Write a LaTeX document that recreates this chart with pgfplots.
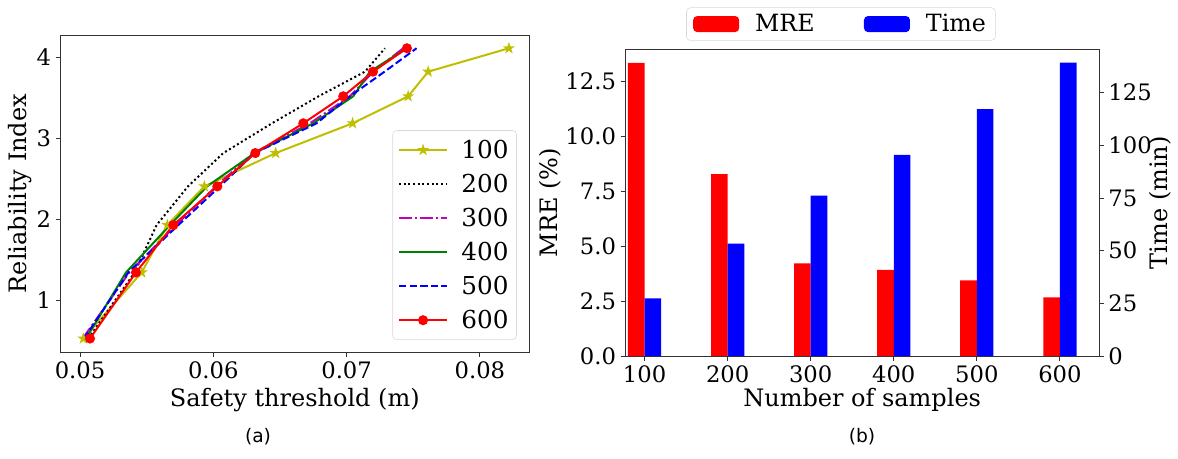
\documentclass[border=0pt]{standalone}
\usepackage{fontspec}
\setmainfont{DejaVu Serif}
\newfontfamily\capfont{DejaVu Sans}
\usepackage{pgfplots}
\pgfplotsset{compat=1.18}

\definecolor{myy}{rgb}{0.75,0.75,0}
\definecolor{mym}{rgb}{0.75,0,0.75}
\definecolor{myg}{rgb}{0,0.5,0}

% filled five-pointed star, like matplotlib's '*'
\pgfdeclareplotmark{fstar}{%
  \pgfpathmoveto{\pgfpointpolar{90}{\pgfplotmarksize}}%
  \pgfpathlineto{\pgfpointpolar{126}{0.382\pgfplotmarksize}}%
  \pgfpathlineto{\pgfpointpolar{162}{\pgfplotmarksize}}%
  \pgfpathlineto{\pgfpointpolar{198}{0.382\pgfplotmarksize}}%
  \pgfpathlineto{\pgfpointpolar{234}{\pgfplotmarksize}}%
  \pgfpathlineto{\pgfpointpolar{270}{0.382\pgfplotmarksize}}%
  \pgfpathlineto{\pgfpointpolar{306}{\pgfplotmarksize}}%
  \pgfpathlineto{\pgfpointpolar{342}{0.382\pgfplotmarksize}}%
  \pgfpathlineto{\pgfpointpolar{18}{\pgfplotmarksize}}%
  \pgfpathlineto{\pgfpointpolar{54}{0.382\pgfplotmarksize}}%
  \pgfpathclose\pgfusepathqfillstroke}

\pgfplotsset{
  /pgf/number format/assume math mode=true,
  common/.style={
    scale only axis, anchor=south west,
    tick align=outside,
    major tick length=3.6pt,
    tick style={black!80, line width=0.6pt},
    axis line style={black!80, line width=0.6pt},
    ticklabel style={font=\fontsize{17}{20}\selectfont},
    label style={font=\fontsize{18}{21}\selectfont},
  },
}

\begin{document}
\begin{tikzpicture}
\useasboundingbox (0,0) rectangle (883.5pt,343.5pt);

% ---------- (a) reliability index vs threshold ----------
\begin{axis}[common,
  at={(45.5pt,79.5pt)}, width=351.2pt, height=237.75pt,
  xmin=0.04855, xmax=0.08368, ymin=0.358, ymax=4.275,
  xtick={0.05,0.06,0.07,0.08}, ytick={1,2,3,4},
  scaled x ticks=false,
  xticklabel style={/pgf/number format/.cd,fixed,fixed zerofill,precision=2},
  xtick pos=left, ytick pos=left,
  xlabel={Safety threshold (m)}, ylabel={Reliability Index},
  ylabel style={at={(axis description cs:-0.086,0.5)}, anchor=center},
  legend style={at={(0.974,0.038)}, anchor=south east,
    draw=black!15, rounded corners=3pt, fill=white,
    font=\fontsize{18.5}{22}\selectfont, inner xsep=4pt, inner ysep=5pt,
    row sep=6.3pt,
    /tikz/every odd column/.append style={column sep=8pt}},
  legend cell align=left,
  legend image code/.code={\draw[mark repeat=2,mark phase=2,#1]
    plot coordinates {(0pt,0pt) (18pt,0pt) (36pt,0pt)};},
  every axis plot/.append style={line width=1.5pt},
]
\addplot[myy, mark=fstar, mark size=2.4pt] coordinates {
  (0.05025,0.5244) (0.05463,1.3408) (0.05655,1.9268) (0.05933,2.4042)
  (0.06468,2.8161) (0.07045,3.1837) (0.07462,3.5178) (0.07612,3.8219)
  (0.08218,4.1113)};
\addlegendentry{100}
\addplot[black, dash pattern=on 1.5pt off 2pt] coordinates {
  (0.05063,0.5244) (0.0541,1.3408) (0.05575,1.9268) (0.0581,2.4042)
  (0.06075,2.8161) (0.0644,3.1837) (0.0679,3.5178) (0.07138,3.8219)
  (0.07288,4.1113)};
\addlegendentry{200}
\addplot[mym, dash pattern=on 9.6pt off 2.4pt on 1.5pt off 2.4pt] coordinates {
  (0.0502,0.5244) (0.0537,1.3408) (0.0572,1.9268) (0.0602,2.4042)
  (0.0630,2.8161) (0.06725,3.1837) (0.07025,3.5178) (0.0720,3.8219)
  (0.07425,4.1113)};
\addlegendentry{300}
\addplot[myg] coordinates {
  (0.05045,0.5244) (0.05345,1.3408) (0.05675,1.9268) (0.05953,2.4042)
  (0.0631,2.8161) (0.0675,3.1837) (0.0705,3.5178) (0.07175,3.8219)
  (0.0745,4.1113)};
\addlegendentry{400}
\addplot[blue, dash pattern=on 5.5pt off 2.4pt] coordinates {
  (0.0503,0.5244) (0.05363,1.3408) (0.05738,1.9268) (0.0605,2.4042)
  (0.0631,2.8161) (0.06775,3.1837) (0.07025,3.5178) (0.07285,3.8219)
  (0.07525,4.1113)};
\addlegendentry{500}
\addplot[red, mark=*, mark size=3pt] coordinates {
  (0.05075,0.5244) (0.0542,1.3408) (0.0570,1.9268) (0.0603,2.4042)
  (0.06315,2.8161) (0.06675,3.1837) (0.06975,3.5178) (0.07198,3.8219)
  (0.07453,4.1113)};
\addlegendentry{600}
\end{axis}

% ---------- (b) MRE and time vs number of samples ----------
\begin{axis}[common,
  at={(469.1pt,76.5pt)}, width=355.1pt, height=230pt,
  xmin=77, xmax=647, ymin=0, ymax=13.94,
  xtick={100,200,300,400,500,600},
  ytick={0,2.5,5,7.5,10,12.5},
  yticklabel style={/pgf/number format/.cd,fixed,fixed zerofill,precision=1},
  xtick pos=left, ytick pos=left,
  xlabel={Number of samples}, ylabel={MRE (\%)},
  xlabel style={at={(axis description cs:0.5,-0.142)}, anchor=center},
  ylabel style={at={(axis description cs:-0.1595,0.5)}, anchor=center},
]
\addplot[ybar, bar width=20, bar shift=-10, fill=red, draw=none] coordinates {
  (100,13.33) (200,8.27) (300,4.21) (400,3.91) (500,3.44) (600,2.67)};
\end{axis}

\begin{axis}[common,
  at={(469.1pt,76.5pt)}, width=355.1pt, height=230pt,
  xmin=77, xmax=647, ymin=0, ymax=145.5,
  axis x line=none, axis y line*=right,
  ytick={0,25,50,75,100,125},
  ylabel={Time (min)},
  ylabel style={at={(axis description cs:1.129,0.5)}, anchor=center, rotate=0},
  legend style={at={(0.455,1.028)}, anchor=south,
    draw=black!15, rounded corners=3pt, fill=white,
    font=\fontsize{17.8}{21}\selectfont, inner xsep=5pt, inner ysep=3pt,
    /tikz/every odd column/.append style={column sep=10pt},
    /tikz/every even column/.append style={column sep=35pt}},
  legend columns=2,
  legend image code/.code={\fill[#1] (0pt,-6pt) rectangle (34.5pt,6pt);},
]
\addlegendimage{fill=red, draw=none}
\addlegendentry{MRE}
\addplot[ybar, bar width=20, bar shift=10, fill=blue, draw=none] coordinates {
  (100,27.4) (200,53.3) (300,76.1) (400,95.4) (500,117.1) (600,139.2)};
\addlegendentry{Time}
\end{axis}

\node[font=\capfont\fontsize{14}{16}\selectfont] at (193.5pt,15.75pt) {(a)};
\node[font=\capfont\fontsize{14}{16}\selectfont] at (646.5pt,15.75pt) {(b)};
\end{tikzpicture}
\end{document}
